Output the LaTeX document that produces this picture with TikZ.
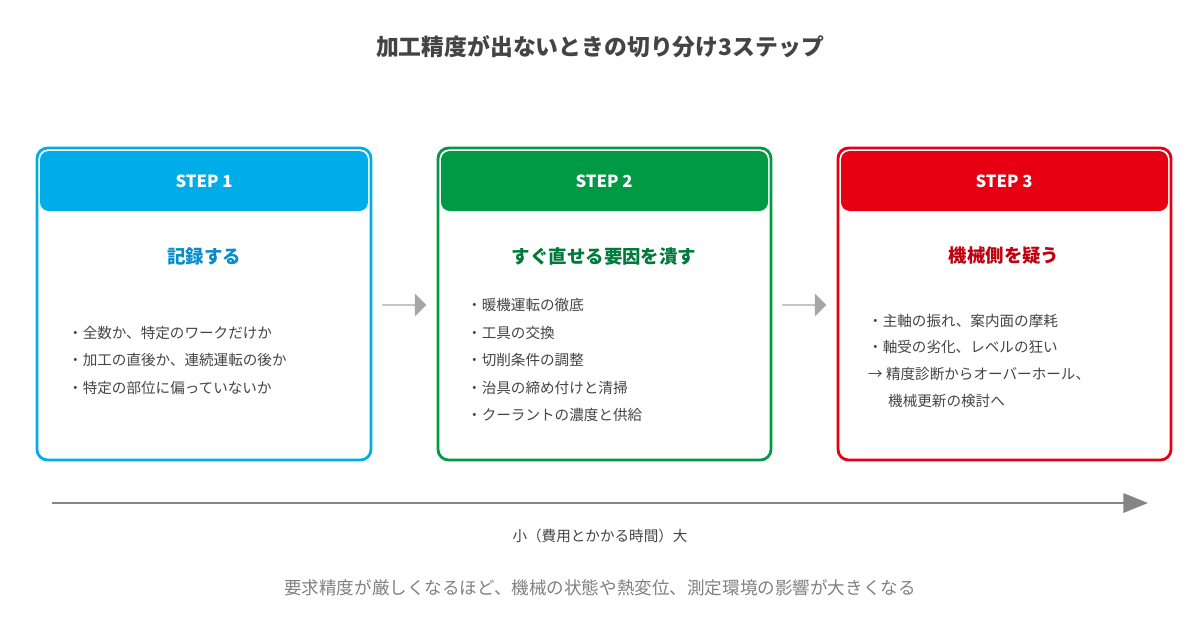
\documentclass[tikz,border=0pt]{standalone}
\usepackage{fontspec}
\setmainfont{Noto Sans CJK JP}
\usetikzlibrary{shapes.arrows,arrows.meta,positioning}
\definecolor{stepblue}{HTML}{00ADE8}
\definecolor{stepgreen}{HTML}{009944}
\definecolor{stepred}{HTML}{E60012}
\definecolor{headblue}{HTML}{0A8CC8}
\definecolor{headgreen}{HTML}{007A3A}
\definecolor{headred}{HTML}{C0000E}
\definecolor{textgray}{HTML}{444444}
\definecolor{arrowgray}{HTML}{A6A6A6}
\begin{document}
\begin{tikzpicture}[x=0.02cm,y=-0.02cm,
    box/.style={draw=#1, line width=1.6pt, rounded corners=6pt},
    head/.style={fill=#1, rounded corners=5pt},
    steplabel/.style={text=white, font=\bfseries\fontsize{9.5}{11}\selectfont},
    heading/.style={font=\bfseries\fontsize{10.5}{12}\selectfont},
    item/.style={anchor=west, text=textgray, font=\fontsize{8.3}{10}\selectfont},
    flow/.style={single arrow, fill=arrowgray, minimum width=13pt, single arrow head extend=3pt,
        single arrow tip angle=90, minimum height=25pt, inner sep=0pt}
]
\useasboundingbox (0,0) rectangle (1200,630);
\node[font=\bfseries\fontsize{13}{15}\selectfont, text=textgray] (title) at (600,47) {加工精度が出ないときの切り分け3ステップ};

% step 1
\draw[box=stepblue] (37,148) rectangle (371,460);
\fill[head=stepblue] (40,151) rectangle (368,211);
\node[steplabel] (s1) at (204,181) {STEP 1};
\node[heading, text=headblue] (h1) at (204,256) {記録する};
\node[item] (a1) at (62,333) {・全数か、特定のワークだけか};
\node[item] (a2) at (62,360) {・加工の直後か、連続運転の後か};
\node[item] (a3) at (62,388) {・特定の部位に偏っていないか};

% step 2
\draw[box=stepgreen] (438,148) rectangle (771,460);
\fill[head=stepgreen] (441,151) rectangle (768,211);
\node[steplabel] (s2) at (604,181) {STEP 2};
\node[heading, text=headgreen] (h2) at (604,256) {すぐ直せる要因を潰す};
\node[item] (b1) at (461,305) {・暖機運転の徹底};
\node[item] (b2) at (461,333) {・工具の交換};
\node[item] (b3) at (461,360) {・切削条件の調整};
\node[item] (b4) at (461,388) {・治具の締め付けと清掃};
\node[item] (b5) at (461,415) {・クーラントの濃度と供給};

% step 3
\draw[box=stepred] (838,148) rectangle (1171,460);
\fill[head=stepred] (841,151) rectangle (1168,211);
\node[steplabel] (s3) at (1004,181) {STEP 3};
\node[heading, text=headred] (h3) at (1004,256) {機械側を疑う};
\node[item] (c1) at (862,321) {・主軸の振れ、案内面の摩耗};
\node[item] (c2) at (862,347) {・軸受の劣化、レベルの狂い};
\node[item] (c3) at (862,374) {→ 精度診断からオーバーホール、};
\node[item] (c4) at (882,401) {機械更新の検討へ};

% arrows between steps
\node[flow] (f1) at (404,305) {};
\node[flow] (f2) at (804,305) {};

% time axis
\coordinate (t0) at (52,503);
\coordinate (t1) at (1148,503);
\draw[arrowgray!80!black, line width=1.2pt, -{Triangle[length=14pt,width=11pt]}] (t0) -- (t1);
\node[text=textgray, font=\fontsize{8.3}{10}\selectfont] (tl) at (600,536) {小（費用とかかる時間）大};
\node[text=gray, font=\fontsize{10}{12}\selectfont] (note) at (600,588) {要求精度が厳しくなるほど、機械の状態や熱変位、測定環境の影響が大きくなる};
\end{tikzpicture}
\end{document}
